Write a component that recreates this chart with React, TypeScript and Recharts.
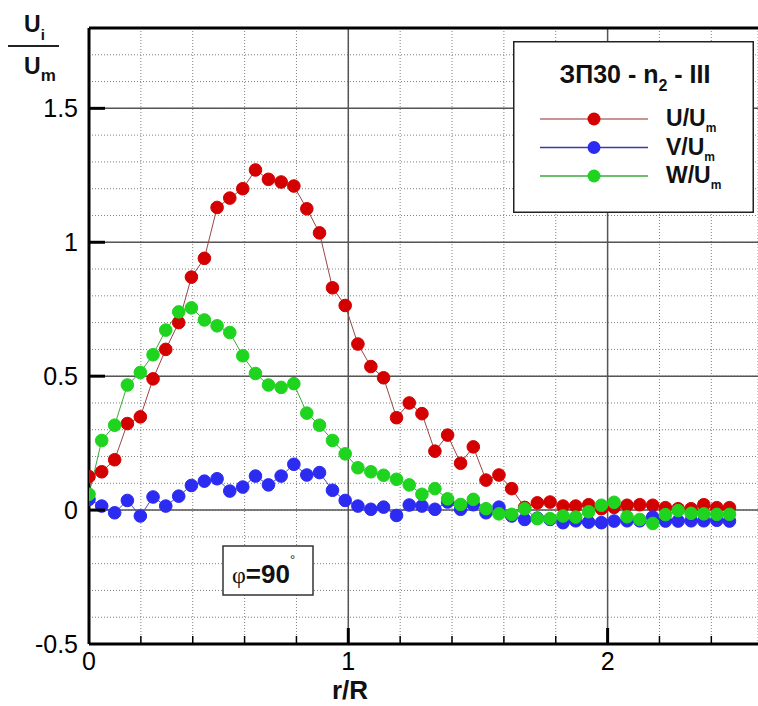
import React from 'react';
import {
  LineChart,
  Line,
  XAxis,
  YAxis,
  CartesianGrid,
  ReferenceLine,
  Legend
} from 'recharts';

// r/R positions of the measuring points
const R = [
  0, 0.049, 0.099, 0.148, 0.198, 0.247, 0.296, 0.346, 0.395, 0.445,
  0.494, 0.543, 0.593, 0.642, 0.692, 0.741, 0.79, 0.84, 0.889, 0.939,
  0.988, 1.037, 1.087, 1.136, 1.186, 1.235, 1.284, 1.334, 1.383, 1.433,
  1.482, 1.531, 1.581, 1.63, 1.68, 1.729, 1.778, 1.828, 1.877, 1.927,
  1.976, 2.025, 2.075, 2.124, 2.174, 2.223, 2.272, 2.322, 2.371, 2.421,
  2.47
];

const U = [
  0.125, 0.143, 0.188, 0.323, 0.348, 0.49, 0.6, 0.7, 0.87, 0.94,
  1.13, 1.165, 1.2, 1.27, 1.235, 1.225, 1.21, 1.125, 1.035, 0.83,
  0.764, 0.62, 0.536, 0.494, 0.345, 0.4, 0.36, 0.22, 0.28, 0.175,
  0.236, 0.112, 0.131, 0.08, 0.01, 0.027, 0.03, 0.015, 0.015, 0.02,
  0.005, 0.01, 0.018, 0.02, 0.018, 0.009, 0.005, 0.005, 0.02, 0.009,
  0.009
];

const V = [
  0.04, 0.015, -0.01, 0.036, -0.022, 0.049, 0.015, 0.052, 0.092, 0.108,
  0.117, 0.071, 0.086, 0.127, 0.094, 0.127, 0.171, 0.131, 0.14, 0.074,
  0.036, 0.015, 0.003, 0.011, -0.02, 0.019, 0.015, 0.003, 0.03, 0.003,
  0.02, -0.01, 0.011, -0.022, -0.035, -0.03, -0.035, -0.047, -0.04, -0.045,
  -0.047, -0.041, -0.04, -0.04, -0.026, -0.041, -0.041, -0.04, -0.04, -0.038,
  -0.041
];

const W = [
  0.059, 0.26, 0.317, 0.467, 0.514, 0.58, 0.672, 0.74, 0.755, 0.71,
  0.688, 0.663, 0.576, 0.51, 0.467, 0.458, 0.472, 0.362, 0.317, 0.26,
  0.21, 0.158, 0.143, 0.13, 0.115, 0.094, 0.059, 0.08, 0.042, 0.021,
  0.04, 0.005, -0.014, -0.016, 0.005, -0.032, -0.032, -0.022, -0.026, -0.006,
  0.018, 0.029, -0.025, -0.035, -0.05, -0.017, -0.002, -0.012, -0.014, -0.016,
  -0.016
];

const X_TICKS = [0, 0.2, 0.4, 0.6, 0.8, 1, 1.2, 1.4, 1.6, 1.8, 2, 2.2, 2.4];
const X_MAJOR = [0, 1, 2];
const Y_TICKS = [
  -0.5, -0.4, -0.3, -0.2, -0.1, 0, 0.1, 0.2, 0.3, 0.4, 0.5, 0.6, 0.7, 0.8, 0.9,
  1, 1.1, 1.2, 1.3, 1.4, 1.5, 1.6, 1.7, 1.8
];
const Y_MAJOR = [-0.5, 0, 0.5, 1, 1.5];

const SERIES = [
  { key: 'U', values: U, fill: '#d40000', line: '#9a4646', legendLine: '#b87070' },
  { key: 'V', values: V, fill: '#2b2bf2', line: '#4a4ab8', legendLine: '#3a3aa8' },
  { key: 'W', values: W, fill: '#1fd41f', line: '#3aa83a', legendLine: '#3aa83a' }
];

const FONT = '"Liberation Sans", Arial, sans-serif';

const rows = R.map((r, i) => ({ r, U: U[i], V: V[i], W: W[i] }));

const YTick = (props: any) => {
  const { x, y, payload } = props;
  const v = payload.value;
  if (!Y_MAJOR.includes(v)) return <g />;
  const axisX = x + 11;
  return (
    <g>
      {v > -0.5 && (
        <line x1={axisX} x2={axisX + 16} y1={y} y2={y} stroke="#000" strokeWidth={3} />
      )}
      <text x={x} y={y} dy="0.35em" textAnchor="end" fontFamily={FONT} fontSize={25} fill="#000">
        {String(v)}
      </text>
    </g>
  );
};

const XTick = (props: any) => {
  const { x, y, payload } = props;
  const v = payload.value;
  const axisY = y - 8;
  const major = X_MAJOR.includes(v);
  return (
    <g>
      {v > 0 && (
        <line
          x1={x}
          x2={x}
          y1={axisY}
          y2={axisY - (major ? 16 : 8)}
          stroke="#000"
          strokeWidth={major ? 3 : 1.5}
        />
      )}
      {major && (
        <text x={x} y={y} dy="0.71em" textAnchor="middle" fontFamily={FONT} fontSize={25} fill="#000">
          {String(v)}
        </text>
      )}
    </g>
  );
};

const LegendBox = (props: any) => {
  const payload = props.payload || [];
  return (
    <svg width={241} height={172} style={{ display: 'block' }}>
      <rect x={0.75} y={0.75} width={239.5} height={170.5} fill="#fff" stroke="#222" strokeWidth={1.5} />
      <text x={122} y={42} textAnchor="middle" fontFamily={FONT} fontWeight="bold" fontSize={25} fill="#111">
        ЗП30 - n<tspan fontSize={16} dy={8}>2</tspan>
        <tspan dy={-8}> - III</tspan>
      </text>
      {payload.map((p: any, i: number) => {
        const s = SERIES.find((d) => d.key === p.dataKey) || SERIES[i];
        const cy = 78 + i * 28.5;
        return (
          <g key={s.key}>
            <line x1={27} x2={135} y1={cy} y2={cy} stroke={s.legendLine} strokeWidth={1.5} />
            <circle cx={81} cy={cy} r={6.5} fill={s.fill} />
            <text x={153} y={cy + 7} fontFamily={FONT} fontWeight="bold" fontSize={23} fill="#111">
              {s.key}/U<tspan fontSize={12} dy={6}>m</tspan>
            </text>
          </g>
        );
      })}
    </svg>
  );
};

export default function App() {
  return (
    <div style={{ position: 'absolute', left: 0, top: 0, width: 758, height: 706, background: '#fff' }}>
      <LineChart
        width={758}
        height={706}
        data={rows}
        margin={{ top: 28, right: 0, bottom: 0, left: 0 }}
      >
        <CartesianGrid stroke="#808080" strokeWidth={1} strokeDasharray="1 2" />
        <XAxis
          type="number"
          dataKey="r"
          domain={[0, 2.58]}
          ticks={X_TICKS}
          interval={0}
          height={62}
          tickSize={0}
          tickMargin={8}
          tickLine={false}
          tick={(p: any) => <XTick {...p} />}
          axisLine={{ stroke: '#000', strokeWidth: 3 }}
          allowDataOverflow
        />
        <YAxis
          type="number"
          domain={[-0.5, 1.8]}
          ticks={Y_TICKS}
          interval={0}
          width={89}
          tickSize={0}
          tickMargin={11}
          tickLine={false}
          tick={(p: any) => <YTick {...p} />}
          axisLine={{ stroke: '#000', strokeWidth: 3 }}
          allowDataOverflow
        />
        {[1, 2].map((v) => (
          <ReferenceLine key={'x' + v} x={v} stroke="#555" strokeWidth={1.5} />
        ))}
        {[0, 0.5, 1, 1.5].map((v) => (
          <ReferenceLine key={'y' + v} y={v} stroke="#555" strokeWidth={1.5} />
        ))}
        <ReferenceLine y={1.8} stroke="#000" strokeWidth={3} />
        {SERIES.map((s) => (
          <Line
            key={s.key}
            type="linear"
            dataKey={s.key}
            stroke={s.line}
            strokeWidth={1}
            dot={{ r: 6.3, fill: s.fill, stroke: s.fill, strokeWidth: 1 }}
            activeDot={false}
            isAnimationActive={false}
          />
        ))}
        <Legend
          layout="vertical"
          align="center"
          verticalAlign="middle"
          content={(p: any) => <LegendBox {...p} />}
          wrapperStyle={{ position: 'absolute', left: 513, top: 41, width: 241, height: 172 }}
        />
      </LineChart>
      <svg
        width={758}
        height={706}
        style={{ position: 'absolute', left: 0, top: 0, pointerEvents: 'none' }}
      >
        {/* axis title Ui / Um */}
        <text x={24} y={32} fontFamily={FONT} fontWeight="bold" fontSize={23} fill="#111">
          U<tspan fontSize={15} dy={8}>i</tspan>
        </text>
        <line x1={8} x2={59} y1={46} y2={46} stroke="#222" strokeWidth={2} />
        <text x={24} y={74} fontFamily={FONT} fontWeight="bold" fontSize={23} fill="#111">
          U<tspan fontSize={17} dy={7}>m</tspan>
        </text>
        {/* x axis title */}
        <text x={350} y={699} textAnchor="middle" fontFamily={FONT} fontWeight="bold" fontSize={26} fill="#111">
          r/R
        </text>
        {/* angle box */}
        <rect x={223} y={546} width={90} height={49} fill="#fff" stroke="#333" strokeWidth={1.5} />
        <text x={232} y={583} fontFamily={FONT} fontSize={24} fill="#111">
          <tspan fontFamily='"Liberation Serif", serif'>φ</tspan>
          <tspan fontWeight="bold" fontSize={26}>=90</tspan>
          <tspan fontSize={13} dy={-19}>°</tspan>
        </text>
      </svg>
    </div>
  );
}
